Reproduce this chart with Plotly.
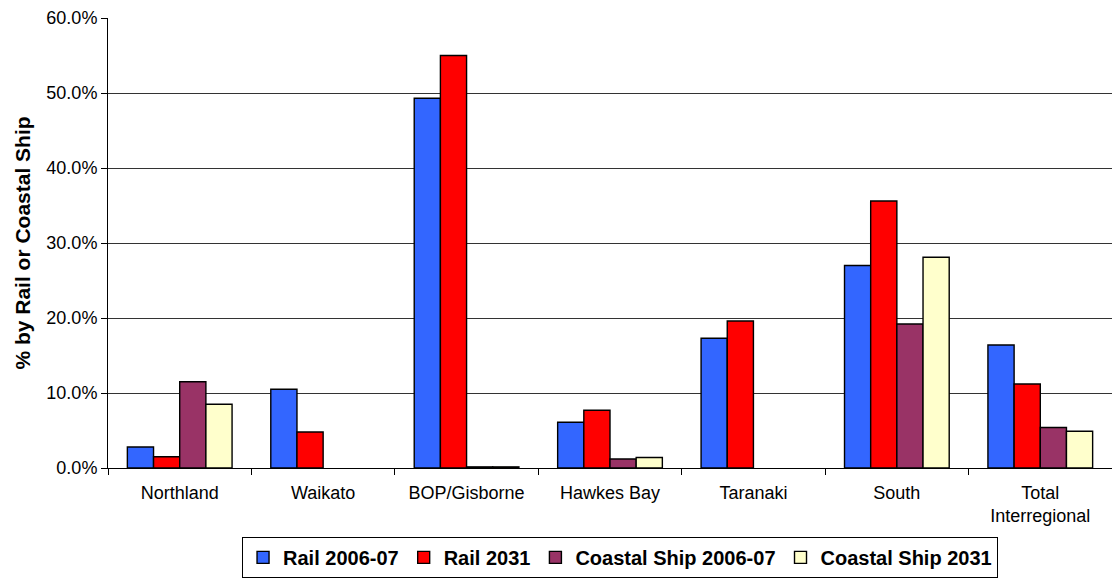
import plotly.graph_objects as go

categories = ["Northland", "Waikato", "BOP/Gisborne", "Hawkes Bay", "Taranaki", "South", "Total<br>Interregional"]
rail_2006 = [2.8, 10.5, 49.3, 6.1, 17.3, 27.0, 16.4]
rail_2031 = [1.5, 4.8, 55.0, 7.7, 19.6, 35.6, 11.2]
ship_2006 = [11.5, 0.0, 0.15, 1.2, 0.0, 19.2, 5.4]
ship_2031 = [8.5, 0.0, 0.15, 1.4, 0.0, 28.1, 4.9]

series = [
    ("Rail 2006-07", rail_2006, "#3366FF"),
    ("Rail 2031", rail_2031, "#FF0000"),
    ("Coastal Ship 2006-07", ship_2006, "#993366"),
    ("Coastal Ship 2031", ship_2031, "#FFFFCC"),
]

FONT = "Liberation Sans, Arial, sans-serif"

fig = go.Figure()
for name, vals, color in series:
    widths = [1.4 if v > 0 else 0 for v in vals]
    fig.add_trace(go.Bar(
        x=categories, y=vals, name=name,
        marker=dict(color=color, line=dict(color="#000000", width=widths)),
    ))

fig.update_layout(
    width=1112, height=579,
    margin=dict(l=108, r=0, t=18, b=111, autoexpand=False),
    paper_bgcolor="white", plot_bgcolor="white",
    font=dict(family=FONT, size=18, color="black"),
    barmode="group", bargap=0.27, bargroupgap=0,
    showlegend=True,
    legend=dict(
        orientation="h", x=0.51, xanchor="center", y=-0.153, yanchor="top",
        font=dict(size=20, family=FONT, color="black", weight="bold"),
        bordercolor="black", borderwidth=1, bgcolor="white",
        traceorder="normal", itemwidth=30, tracegroupgap=0,
    ),
)
fig.update_xaxes(
    showline=True, linecolor="black", linewidth=1,
    ticks="outside", tickson="boundaries", ticklen=6, tickcolor="black",
    showgrid=False, tickfont=dict(size=18), ticklabelstandoff=8,
)
fig.update_yaxes(
    range=[0, 60], dtick=10, ticksuffix="%", tickformat=".1f",
    showline=True, linecolor="black", linewidth=1,
    ticks="outside", ticklen=6, tickcolor="black",
    showgrid=True, gridcolor="#333333", gridwidth=1,
    tickfont=dict(size=18),
    title=dict(text="<b>% by Rail or Coastal Ship</b>", font=dict(size=21), standoff=10),
    zeroline=False,
)

fig.write_html("out.html")
